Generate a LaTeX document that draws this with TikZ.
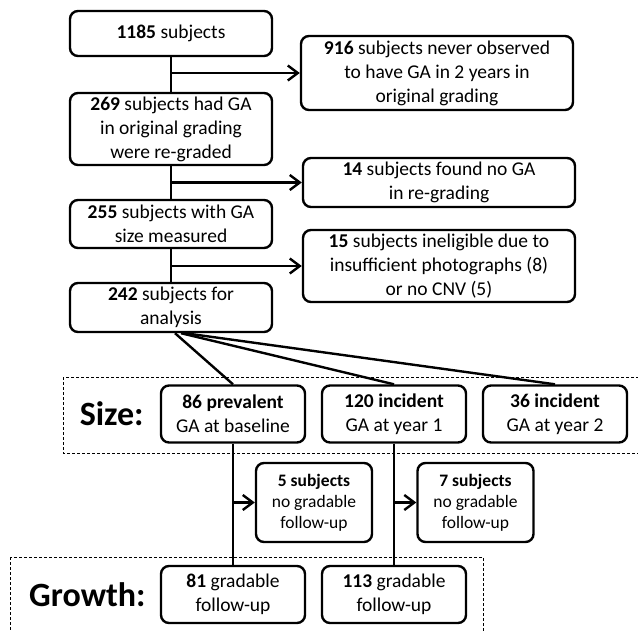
\documentclass[tikz,border=0pt]{standalone}
\usepackage{fontspec}
\setmainfont{Carlito}
\usetikzlibrary{positioning,arrows.meta}

\begin{document}
\begin{tikzpicture}[x=1pt, y=1pt, line width=2.4pt, >={Straight Barb[length=10pt,width=15pt]}]
    \tikzstyle{stage} = [rectangle, rounded corners=8pt, minimum width=202pt, inner sep=2pt, align=center, text centered, draw=black, font=\fontsize{19.5}{24}\selectfont]
    \tikzstyle{side} = [stage, minimum width=272pt]
    \tikzstyle{group} = [stage, minimum width=144pt, minimum height=57pt]
    \tikzstyle{lost} = [stage, minimum width=116pt, minimum height=79pt, font=\fontsize{17.5}{21}\selectfont]
    \tikzstyle{rowlabel} = [inner sep=0pt, font=\fontsize{34}{40}\selectfont\bfseries]
    \tikzstyle{frame} = [draw, line width=0.8pt, dash pattern=on 3pt off 2pt]

    \useasboundingbox (0,0) rectangle (638,-630);

    % Selection
    \node [stage, minimum height=45pt] (total) at (171,-33.5) {\textbf{1185} subjects};
    \node [stage, minimum height=72pt, node distance=95.5pt, below of=total] (regraded) {\textbf{269} subjects had GA\\in original grading\\were re-graded};
    \node [stage, minimum height=48pt, node distance=95pt, below of=regraded] (measured) {\textbf{255} subjects with GA\\size measured};
    \node [stage, minimum height=49pt, node distance=83.5pt, below of=measured] (analysis) {\textbf{242} subjects for\\analysis};

    % Exclusions
    \node [side, minimum height=74pt, node distance=266pt, right of=total, yshift=-39.5pt] (never) {\textbf{916} subjects never observed\\to have GA in 2 years in\\original grading};
    \node [side, minimum height=49pt, node distance=109.5pt, below of=never, xshift=2pt] (nogaregrade) {\textbf{14} subjects found no GA\\in re-grading};
    \node [side, minimum height=72pt, node distance=83.5pt, below of=nogaregrade] (ineligible) {\textbf{15} subjects ineligible due to\\insufficient photographs (8)\\or no CNV (5)};

    % Size
    \node [group, node distance=106.5pt, below of=analysis, xshift=62pt] (prevalent) {\textbf{86 prevalent}\\GA at baseline};
    \node [group, node distance=161pt, right of=prevalent] (incidentone) {\textbf{120 incident}\\GA at year 1};
    \node [group, node distance=161pt, right of=incidentone] (incidenttwo) {\textbf{36 incident}\\GA at year 2};
    \node [rowlabel, left=15pt of prevalent] (sizelabel) {Size:};

    % Lost to follow-up
    \node [lost, node distance=88.5pt, below of=prevalent, xshift=81pt] (lostone) {\textbf{5 subjects}\\no gradable\\follow-up};
    \node [lost, node distance=161.5pt, right of=lostone] (losttwo) {\textbf{7 subjects}\\no gradable\\follow-up};

    % Growth
    \node [group, node distance=180.5pt, below of=prevalent] (gradone) {\textbf{81} gradable\\follow-up};
    \node [group, node distance=161pt, right of=gradone] (gradtwo) {\textbf{113} gradable\\follow-up};
    \node [rowlabel, left=13pt of gradone] (growthlabel) {Growth:};

    % Frames
    \draw [frame] (63,-377) rectangle (645,-453);
    \draw [frame] (10,-557) rectangle (483,-640);

    % Connections
    \draw (total) -- (regraded);
    \draw (regraded) -- (measured);
    \draw (measured) -- (analysis);
    \draw [->] (total |- never) -- (never);
    \draw [->] (regraded |- nogaregrade) -- (nogaregrade);
    \draw [->] (measured |- ineligible) -- (ineligible);

    \draw ([xshift=4pt]analysis.south) -- (prevalent.north);
    \draw ([xshift=10pt]analysis.south) -- (incidentone.north);
    \draw ([xshift=14pt]analysis.south) -- (incidenttwo.north);

    \draw (prevalent) -- (gradone);
    \draw (incidentone) -- (gradtwo);
    \draw [->] (prevalent |- lostone) -- (lostone);
    \draw [->] (incidentone |- losttwo) -- (losttwo);
\end{tikzpicture}
\end{document}
